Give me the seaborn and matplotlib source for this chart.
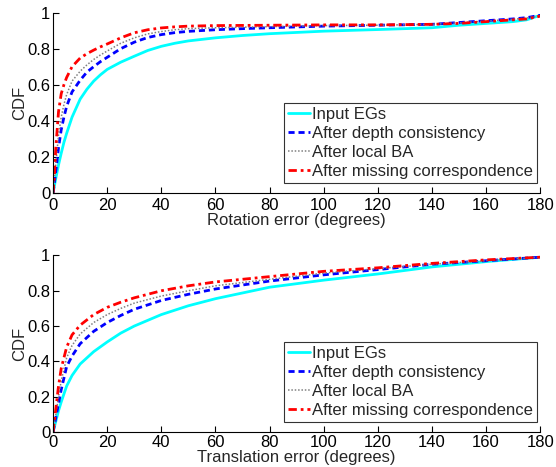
import numpy as np
import pandas as pd
import matplotlib
matplotlib.use("Agg")
import matplotlib.pyplot as plt
import seaborn as sns

series_names = ["Input EGs", "After depth consistency", "After local BA",
                "After missing correspondence"]

# Rotation error CDF
rot_x = [0, 0.5, 1, 2, 3, 4, 5, 7, 10, 12.5, 15, 17.5, 20, 25, 30, 35, 40,
         45, 50, 60, 70, 80, 100, 120, 140, 150, 160, 170, 175, 180]
rot_input = [0, 0.04, 0.08, 0.155, 0.22, 0.28, 0.33, 0.42, 0.52, 0.575,
             0.62, 0.655, 0.685, 0.725, 0.758, 0.79, 0.813, 0.83, 0.843,
             0.86, 0.873, 0.883, 0.897, 0.906, 0.916, 0.93, 0.94, 0.95,
             0.96, 0.985]
rot_depth = [0, 0.06, 0.12, 0.25, 0.35, 0.42, 0.48, 0.56, 0.625, 0.67,
             0.70, 0.728, 0.752, 0.80, 0.836, 0.862, 0.878, 0.889, 0.896,
             0.905, 0.911, 0.916, 0.925, 0.93, 0.935, 0.945, 0.955, 0.965,
             0.972, 0.985]
rot_ba = [0, 0.08, 0.16, 0.32, 0.42, 0.49, 0.545, 0.62, 0.675, 0.71, 0.74,
          0.765, 0.787, 0.83, 0.86, 0.882, 0.895, 0.905, 0.911, 0.916,
          0.919, 0.922, 0.928, 0.93, 0.935, 0.943, 0.953, 0.963, 0.97,
          0.983]
rot_missing = [0, 0.10, 0.25, 0.45, 0.55, 0.60, 0.64, 0.70, 0.748, 0.772,
               0.792, 0.81, 0.826, 0.86, 0.888, 0.905, 0.915, 0.921, 0.925,
               0.928, 0.929, 0.93, 0.932, 0.932, 0.935, 0.94, 0.95, 0.96,
               0.965, 0.98]

# Translation error CDF
tr_x = [0, 1, 2, 3, 5, 7, 10, 15, 20, 25, 30, 40, 50, 60, 80, 100, 120, 140,
        160, 180]
tr_input = [0, 0.06, 0.12, 0.17, 0.26, 0.32, 0.385, 0.455, 0.51, 0.56, 0.60,
            0.665, 0.715, 0.755, 0.82, 0.86, 0.895, 0.935, 0.965, 0.99]
tr_depth = [0, 0.08, 0.16, 0.24, 0.37, 0.43, 0.50, 0.57, 0.62, 0.66, 0.695,
            0.745, 0.78, 0.81, 0.855, 0.89, 0.92, 0.95, 0.97, 0.99]
tr_ba = [0, 0.10, 0.20, 0.29, 0.42, 0.49, 0.555, 0.62, 0.665, 0.70, 0.73,
         0.77, 0.80, 0.828, 0.865, 0.90, 0.925, 0.95, 0.97, 0.99]
tr_missing = [0, 0.13, 0.26, 0.36, 0.48, 0.55, 0.605, 0.665, 0.706, 0.735,
              0.76, 0.80, 0.828, 0.85, 0.88, 0.91, 0.93, 0.955, 0.975, 0.99]

x_ticks = list(range(0, 181, 20))
y_ticks = [0, 0.2, 0.4, 0.6, 0.8, 1]
y_tick_labels = ["0", "0.2", "0.4", "0.6", "0.8", "1"]

sns.set_theme(style="white")
plt.rcParams["font.family"] = ["Liberation Sans", "DejaVu Sans"]

colors = ["#00FFFF", "#0000FF", "#808080", "#FF0000"]
styles = ["-", (0, (2.2, 1.4)), (0, (1, 1.2)), (0, (3, 1.4, 1, 1.4))]
widths = [2.0, 2.0, 1.1, 2.0]
FS = 12

fig = plt.figure(figsize=(5.56, 4.67), dpi=100)
ax1 = fig.add_axes([0.0955, 0.587, 0.876, 0.386])
ax2 = fig.add_axes([0.0955, 0.075, 0.876, 0.378])


def draw(ax, xs, ys_list, xlabel, xpad, xlabelpad):
    for name, ys, c, ls, lw in zip(series_names, ys_list, colors, styles, widths):
        df = pd.DataFrame({"x": xs, "y": ys})
        sns.lineplot(data=df, x="x", y="y", ax=ax, color=c, linestyle=ls,
                     linewidth=lw, label=name)
    ax.set_xlim(0, 180)
    ax.set_ylim(0, 1)
    ax.set_xticks(x_ticks)
    ax.set_yticks(y_ticks)
    ax.set_yticklabels(y_tick_labels)
    ax.tick_params(direction="in", length=4, width=0.8, labelsize=FS,
                   colors="black", left=True, bottom=True, pad=2)
    ax.tick_params(axis="x", pad=xpad)
    for s in ["top", "right"]:
        ax.spines[s].set_visible(False)
    for s in ["left", "bottom"]:
        ax.spines[s].set_color("black")
        ax.spines[s].set_linewidth(0.8)
    ax.set_xlabel(xlabel, fontsize=FS, labelpad=xlabelpad)
    ax.set_ylabel("CDF", fontsize=FS, labelpad=0)
    leg = ax.legend(loc="lower right", bbox_to_anchor=(0.993, 0.055),
                    fontsize=FS, frameon=True, fancybox=False,
                    handlelength=1.3, handletextpad=0.1, borderpad=0.25,
                    labelspacing=0.24, borderaxespad=0)
    leg.get_frame().set_edgecolor("black")
    leg.get_frame().set_linewidth(0.8)


draw(ax1, rot_x, [rot_input, rot_depth, rot_ba, rot_missing],
     "Rotation error (degrees)", 4, 0)
draw(ax2, tr_x, [tr_input, tr_depth, tr_ba, tr_missing],
     "Translation error (degrees)", 2, 0)

fig.savefig("out.png", dpi=100)
